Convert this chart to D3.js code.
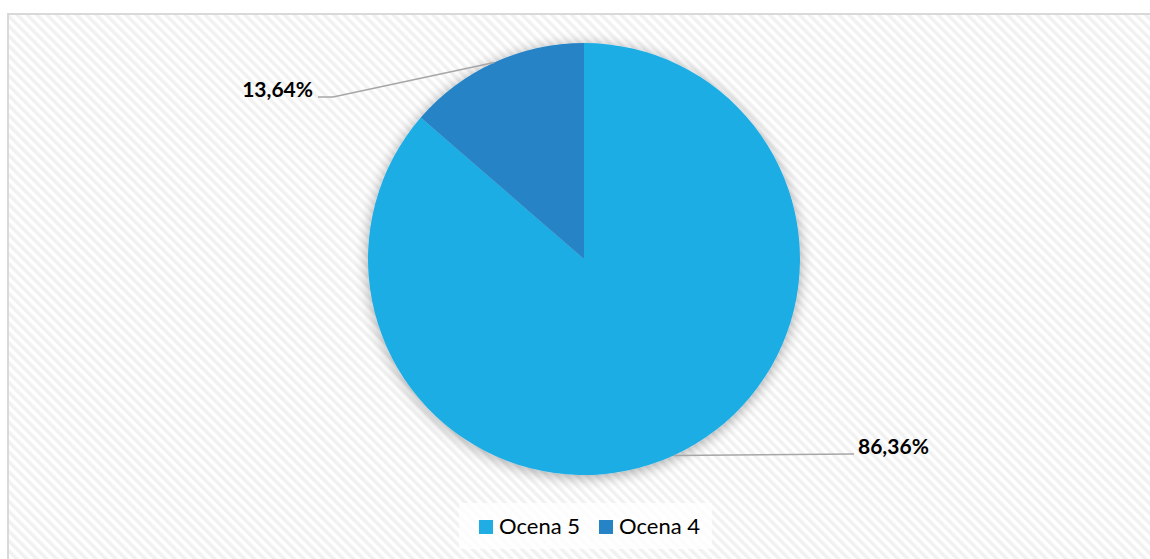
<!DOCTYPE html>
<html><head><meta charset="utf-8">
<script src="https://cdn.jsdelivr.net/npm/d3@7"></script>
<style>html,body{margin:0;padding:0;background:#fff;overflow:hidden}</style>
</head><body>
<div id="chart"></div>
<script>
const categories = ["Ocena 5", "Ocena 4"];
const values = [86.36, 13.64];
const labels = ["86,36%", "13,64%"];
const colors = ["#1FADE4", "#2683C6"];

const W = 1150, H = 559;
const svg = d3.select("#chart").append("svg").attr("width", W).attr("height", H);
const defs = svg.append("defs");
const pat = defs.append("pattern").attr("id", "stripes").attr("patternUnits", "userSpaceOnUse")
  .attr("width", 7).attr("height", 7).attr("patternTransform", "rotate(-45)");
pat.append("rect").attr("width", 7).attr("height", 7).attr("fill", "#ffffff");
pat.append("rect").attr("width", 3.5).attr("height", 7).attr("fill", "#f1f1f1");
const f = defs.append("filter").attr("id", "shadow").attr("x", "-20%").attr("y", "-20%").attr("width", "140%").attr("height", "140%");
f.append("feGaussianBlur").attr("in", "SourceAlpha").attr("stdDeviation", 7).attr("result", "b");
f.append("feOffset").attr("in", "b").attr("dx", 0).attr("dy", 2).attr("result", "o");
f.append("feComponentTransfer").attr("in", "o").attr("result", "s").append("feFuncA").attr("type", "linear").attr("slope", 0.35);
const m = f.append("feMerge"); m.append("feMergeNode").attr("in", "s"); m.append("feMergeNode").attr("in", "SourceGraphic");

svg.append("rect").attr("x", 8).attr("y", 14).attr("width", W + 20).attr("height", H + 20)
  .attr("fill", "url(#stripes)").attr("stroke", "#d9d9d9").attr("stroke-width", 2);

const cx = 584, cy = 259, R = 216;
const pie = d3.pie().sort(null).value(d => d)(values);
const arc = d3.arc().innerRadius(0).outerRadius(R);
const g = svg.append("g").attr("transform", `translate(${cx},${cy})`);
const pg = g.append("g").attr("filter", "url(#shadow)");
pg.selectAll("path").data(pie).enter().append("path")
  .attr("d", arc).attr("fill", (d, i) => colors[i]);

// leader lines and labels
const edge = d3.arc().innerRadius(R).outerRadius(R);
const labelPos = [
  { elbow: [854 - cx, 454 - cy], end: [854 - cx, 454 - cy], tx: 858 - cx, ty: 454 - cy, anchor: "start" },
  { elbow: [333 - cx, 97 - cy], end: [318 - cx, 97 - cy], tx: 313 - cx, ty: 97 - cy, anchor: "end" }
];
pie.forEach((d, i) => {
  const p = edge.centroid(d);
  const L = labelPos[i];
  const pts = i === 0 ? [p, L.end] : [p, L.elbow, L.end];
  g.append("path").attr("d", d3.line()(pts)).attr("fill", "none")
    .attr("stroke", "#a6a6a6").attr("stroke-width", 1.5);
  g.append("text").attr("x", L.tx).attr("y", L.ty).attr("text-anchor", L.anchor)
    .attr("font-family", "Lato, 'Open Sans', sans-serif").attr("font-weight", "bold")
    .attr("font-size", 21).attr("fill", "#000").text(labels[i]);
});

// legend
const lg = svg.append("g");
lg.append("rect").attr("x", 459).attr("y", 503).attr("width", 253).attr("height", 46).attr("fill", "#ffffff").attr("opacity", 0.75);
const lx = [479, 599];
categories.forEach((c, i) => {
  lg.append("rect").attr("x", lx[i]).attr("y", 520).attr("width", 14).attr("height", 14).attr("fill", colors[i]);
  lg.append("text").attr("x", lx[i] + 20).attr("y", 534).attr("font-family", "Lato, 'Open Sans', sans-serif")
    .attr("font-size", 22).attr("fill", "#000").text(c);
});
</script>
</body></html>
